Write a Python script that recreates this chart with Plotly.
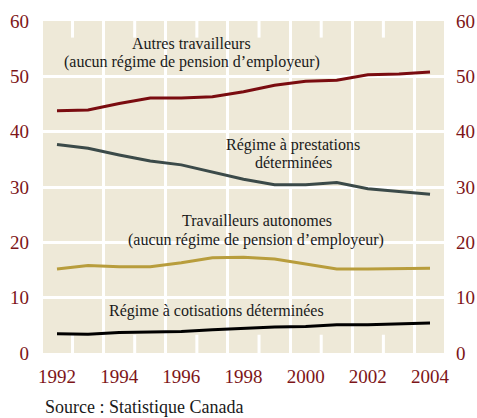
import plotly.graph_objects as go

years = list(range(1992, 2005))
autres = [43.8, 43.9, 45.1, 46.1, 46.1, 46.3, 47.2, 48.4, 49.1, 49.3, 50.3, 50.4, 50.8]
prestations = [37.7, 37.0, 35.8, 34.7, 34.0, 32.7, 31.4, 30.4, 30.4, 30.8, 29.7, 29.2, 28.7]
autonomes = [15.2, 15.8, 15.6, 15.6, 16.3, 17.2, 17.3, 17.0, 16.1, 15.2, 15.2, 15.3, 15.3]
cotisations = [3.5, 3.4, 3.7, 3.8, 3.9, 4.2, 4.5, 4.7, 4.8, 5.1, 5.1, 5.3, 5.4]
xticks = [1992, 1994, 1996, 1998, 2000, 2002, 2004]
yticks = [0, 10, 20, 30, 40, 50, 60]

RED = "#7a0c10"
GREY = "#3b4a49"
GOLD = "#b89d3c"
BG = "#eee9d8"
TICKC = "#7d1518"
FONT = "Liberation Serif"

fig = go.Figure()
for vals, col in [(autres, RED), (prestations, GREY), (autonomes, GOLD), (cotisations, "#000000")]:
    fig.add_trace(go.Scatter(x=years, y=vals, mode="lines",
                             line=dict(color=col, width=3), showlegend=False, hoverinfo="skip"))
# invisible trace for right axis
fig.add_trace(go.Scatter(x=[years[0]], y=[0], yaxis="y2", mode="markers",
                         marker=dict(opacity=0), showlegend=False, hoverinfo="skip"))

# short white ticks at top and bottom
shapes = []
for xv in [1992.5, 1994.5, 1996.5, 1998.5, 2000.5, 2002.5]:
    for y0, y1 in [(0, 3.3), (57, 60)]:
        shapes.append(dict(type="line", xref="x", yref="y", x0=xv, x1=xv, y0=y0, y1=y1,
                           line=dict(color="white", width=3), layer="below"))

tickfont = dict(family=FONT, size=19, color=TICKC)
ann_font = dict(family=FONT, size=16, color="#1a1a1a")

annotations = []
def add(text, x, y):
    annotations.append(dict(text=text, x=x, y=y, xref="x", yref="y", showarrow=False,
                            font=ann_font, xanchor="center", yanchor="middle"))
add("Autres travailleurs", 1996.34, 55.85)
add("(aucun régime de pension d’employeur)", 1996.34, 52.6)
add("Régime à prestations", 1999.59, 37.6)
add("déterminées", 1999.61, 34.5)
add("Travailleurs autonomes", 1998.43, 24.0)
add("(aucun régime de pension d’employeur)", 1998.4, 20.4)
add("Régime à cotisations déterminées", 1997.14, 7.6)
annotations.append(dict(text="Source : Statistique Canada", x=0, y=-0.163, xref="paper", yref="paper",
                        showarrow=False, xanchor="left", yanchor="middle",
                        font=dict(family=FONT, size=18, color="#1a1a1a")))

fig.update_layout(
    width=477, height=418,
    margin=dict(l=43, r=33, t=21, b=65, autoexpand=False),
    paper_bgcolor="white", plot_bgcolor=BG,
    shapes=shapes, annotations=annotations,
    xaxis=dict(range=[1991.55, 2004.45], tickvals=xticks, showgrid=False, zeroline=False,
               tickfont=tickfont, ticks="", ticklabelstandoff=10, automargin=False,
               minor=dict(tick0=1993.5, dtick=2, showgrid=True, gridcolor="white", gridwidth=3, ticks="")),
    yaxis=dict(range=[0, 60], tickvals=yticks, showgrid=True, gridcolor="white", gridwidth=3,
               zeroline=False, tickfont=tickfont, ticks="", ticklabelstandoff=13, automargin=False),
    yaxis2=dict(range=[0, 60], tickvals=yticks, overlaying="y", side="right", showgrid=False,
                zeroline=False, tickfont=tickfont, ticks="", ticklabelstandoff=11, automargin=False),
)
fig.write_html("out.html", config={"displayModeBar": False},
               post_script="document.body.style.margin='0';")
